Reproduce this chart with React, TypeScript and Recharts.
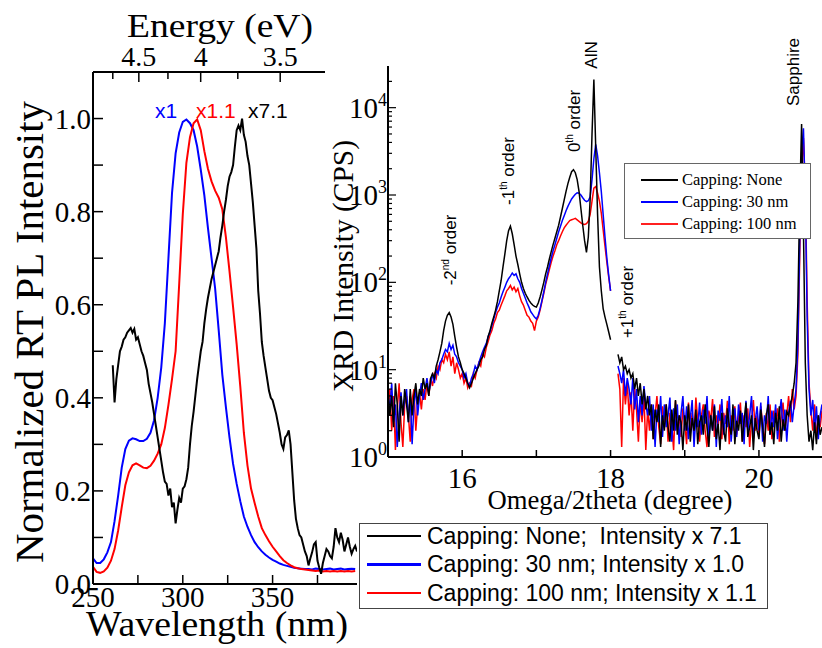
import React from "react";
import { Line, LineChart, XAxis, YAxis } from "recharts";

const SERIF = '"Liberation Serif", "Times New Roman", serif';
const SANS = '"Liberation Sans", Arial, sans-serif';

// ---- PL spectra (normalised), 2 nm grid from 250 nm ----
const plBlue = [
  0.055, 0.045, 0.045, 0.053, 0.068, 0.09, 0.135, 0.19, 0.25, 0.29,
  0.308, 0.313, 0.311, 0.307, 0.307, 0.312, 0.325, 0.352, 0.4, 0.465,
  0.56, 0.7, 0.84, 0.925, 0.97, 0.993, 0.998, 0.99, 0.975, 0.94,
  0.89, 0.835, 0.765, 0.7, 0.635, 0.545, 0.45, 0.38, 0.315, 0.258,
  0.215, 0.178, 0.145, 0.123, 0.105, 0.09, 0.079, 0.07, 0.063, 0.057,
  0.052, 0.048, 0.044, 0.041, 0.039, 0.037, 0.035, 0.034, 0.033, 0.032,
  0.032, 0.031, 0.033, 0.032, 0.031, 0.032, 0.033, 0.031, 0.032, 0.033,
  0.031, 0.032, 0.033, 0.032,
];
const plRed = [
  0.037, 0.026, 0.024, 0.027, 0.035, 0.05, 0.075, 0.115, 0.165, 0.212,
  0.24, 0.255, 0.259, 0.255, 0.25, 0.249, 0.254, 0.265, 0.28, 0.3,
  0.335, 0.385, 0.44, 0.5, 0.645, 0.795, 0.905, 0.96, 0.99, 0.998,
  0.975, 0.93, 0.892, 0.865, 0.845, 0.83, 0.805, 0.745, 0.672, 0.595,
  0.515, 0.425, 0.325, 0.255, 0.205, 0.174, 0.145, 0.12, 0.105, 0.092,
  0.08, 0.07, 0.06, 0.051, 0.045, 0.04, 0.036, 0.034, 0.032, 0.031,
  0.03, 0.029, 0.028, 0.029, 0.027, 0.028, 0.027, 0.028, 0.027, 0.028,
  0.027, 0.028, 0.027, 0.028,
];
// uncapped sample, 1 nm grid from 261 nm
const plBlack = [
  0.47, 0.39, 0.44, 0.47, 0.5, 0.51, 0.525, 0.53, 0.54, 0.545,
  0.55, 0.54, 0.548, 0.525, 0.53, 0.515, 0.5, 0.49, 0.475, 0.46,
  0.43, 0.41, 0.39, 0.365, 0.34, 0.315, 0.29, 0.265, 0.24, 0.22,
  0.215, 0.19, 0.205, 0.165, 0.175, 0.13, 0.16, 0.185, 0.175, 0.205,
  0.21, 0.225, 0.25, 0.3, 0.34, 0.37, 0.405, 0.44, 0.47, 0.5,
  0.52, 0.56, 0.59, 0.615, 0.635, 0.655, 0.67, 0.685, 0.7, 0.715,
  0.745, 0.77, 0.8, 0.825, 0.855, 0.875, 0.885, 0.9, 0.94, 0.975,
  0.985, 0.975, 1.0, 0.965, 0.95, 0.92, 0.9, 0.86, 0.82, 0.77,
  0.72, 0.63, 0.58, 0.52, 0.49, 0.465, 0.44, 0.415, 0.4, 0.395,
  0.38, 0.365, 0.345, 0.325, 0.3, 0.29, 0.315, 0.32, 0.33, 0.3,
  0.24, 0.18, 0.14, 0.12, 0.105, 0.1, 0.085, 0.07, 0.06, 0.04,
  0.055, 0.068, 0.085, 0.09, 0.05, 0.035, 0.022, 0.045, 0.06, 0.075,
  0.07, 0.06, 0.055, 0.08, 0.12, 0.1, 0.09, 0.11, 0.095, 0.07,
  0.085, 0.1, 0.08, 0.065, 0.075, 0.082, 0.07,
];

const nmTicks = [250, 275, 300, 325, 350, 375];
const nmLabels = [250, 300, 350];
const plTicks = [0, 0.1, 0.2, 0.3, 0.4, 0.5, 0.6, 0.7, 0.8, 0.9, 1.0];
const evTicks = [4.75, 4.5, 4.25, 4, 3.75, 3.5];
const evLabels = [4.5, 4, 3.5];

// ---- XRD omega/2theta scans, 0.025 deg steps from 15 deg (null = no data) ----
const xrdNone = [
  6, 3, 5, 2.2, 7, 4, 1.5, 5, 3, 6,
  4, 2.5, 6, 3, 5, 7, 4, 6, 5, 8,
  6, 7, 5, 8, 9, 8, 11, 13, 16, 20,
  28, 36, 42, 45, 40, 33, 24, 18, 14, 12,
  10, 9, 8, 7, 6.2, 7, 8, 9, 10, 11,
  13, 14, 17, 19, 24, 28, 34, 40, 48, 60,
  80, 105, 150, 210, 300, 390, 440, 360, 270, 200,
  160, 125, 100, 85, 75, 68, 62, 58, 55, 53,
  52, 58, 68, 82, 100, 125, 150, 185, 225, 270,
  320, 380, 450, 560, 700, 880, 1100, 1350, 1600, 1850,
  1950, 1800, 1500, 1100, 700, 450, 300, 220, 330, 900,
  5000, 21000, 3500, 600, 150, 80, 50, 40, 33, 27, 22,
  null, null, null,
  15, 12, 14, 10, 11, 9,
  10, 8, 9, 6, 8, 5, 7, 4, 6, 3.5,
  5, 3, 4, 1.6, 3.5, 2.5, 4, 1.3, 3, 2,
  4, 2.2, 1.5, 3.5, 2, 4.5, 1.8, 3, 2.5, 1.2,
  3, 2, 4, 1.5, 2.8, 2, 3.5, 1.4, 2.5, 3,
  1.8, 4, 2.2, 1.3, 3, 2, 3.8, 1.6, 2.4, 1.2,
  3.2, 2, 1.5, 3.6, 2.3, 1.8, 4, 1.4, 2.6, 2,
  3.4, 1.5, 2.6, 4.2, 1.7, 2.2, 3, 1.2, 2.8, 2,
  1.6, 3.5, 2.2, 1.3, 3, 4, 1.8, 2.5, 1.4, 3.2,
  2, 3.8, 1.5, 2.7, 2, 3.3, 3, 4, 5, 7,
  12, 60, 900, 6500, 400, 12, 3, 1.5, 2, 1.2, 2.5, 1.4, 3, 1.8, 2.2,
];
const xrd30nm = [
  5, 3.5, 7, 2.5, 4, 1.3, 3, 5.5, 3, 4.5,
  6, 2.5, 5, 1.4, 4, 6, 3, 5, 7, 4.5,
  6, 8, 5.5, 7, 9, 7, 10, 9, 12, 13,
  15, 17, 16, 20, 17, 19, 15, 14, 12, 11,
  10, 8, 9, 7, 6.5, 8, 9, 11, 10, 12,
  14, 16, 18, 20, 24, 27, 32, 38, 45, 52,
  58, 68, 78, 88, 100, 110, 118, 128, 120, 125,
  110, 100, 85, 75, 66, 58, 52, 46, 43, 40,
  38, 42, 50, 62, 78, 100, 125, 155, 190, 230,
  270, 320, 380, 440, 510, 580, 660, 740, 820, 900,
  960, 1020, 1060, 1050, 1000, 930, 870, 840, 860, 950,
  1500, 2600, 3800, 2800, 1800, 1100, 600, 330, 190, 120, 80,
  null, null, null,
  11, 9, 7, 10, 5, 8,
  6, 4, 8, 3.5, 6, 2.5, 5, 3, 6.5, 4,
  3, 5, 2, 4, 1.3, 3.5, 2.5, 5, 1.7, 4,
  2.2, 3, 4.8, 1.5, 3.6, 2, 4, 1.4, 3.2, 5,
  2, 3.8, 1.6, 2.8, 4.5, 1.3, 3, 2.2, 4.2, 1.8,
  3.5, 2.4, 5, 1.6, 3, 2, 4, 1.3, 3.4, 2.6,
  4.6, 1.8, 3, 2.2, 5, 1.5, 2.8, 3.6, 1.7, 4,
  2.4, 3.2, 1.4, 4.4, 2, 3, 5, 1.6, 2.6, 3.8,
  2, 4.2, 1.5, 3, 2.4, 5, 1.8, 3.4, 2.2, 4,
  1.6, 3, 4.6, 2, 3.5, 1.5, 3.2, 4.4, 2.5, 4,
  6, 20, 300, 3000, 5800, 900, 40, 6, 3, 4.5, 2, 3.8, 1.6, 3, 4,
];
const xrd100nm = [
  4, 6, 2, 5, 1.2, 3.5, 7, 2.5, 1.3, 4,
  5, 3, 1.5, 4.5, 6, 2, 4, 5.5, 3.5, 6,
  4.5, 7, 5, 8, 6.5, 9, 8, 11, 10, 13,
  12, 15, 13, 16, 11, 14, 9, 12, 10, 8,
  9, 7, 8, 6.2, 7, 6.5, 9, 8, 10, 12,
  11, 15, 14, 18, 21, 25, 28, 34, 38, 45,
  48, 55, 62, 70, 80, 85, 92, 82, 88, 78,
  85, 70, 60, 55, 48, 42, 40, 36, 34, 28,
  36, 40, 48, 60, 75, 95, 115, 140, 170, 200,
  230, 270, 300, 340, 380, 420, 450, 480, 510, 520,
  530, 540, 520, 500, 480, 465, 460, 470, 500, 600,
  850, 1200, 1250, 1050, 850, 620, 400, 260, 170, 115, 80,
  null, null, null,
  9, 6, 1.3, 8, 4, 7,
  3, 5.5, 2, 6, 3.5, 1.5, 4.5, 2.5, 5, 1.2,
  3.5, 2, 4, 1.6, 3, 5, 2.2, 1.4, 3.8, 2.5,
  4, 1.5, 3.2, 2.4, 1.2, 4.4, 2, 3, 1.7, 3.6,
  2.5, 1.4, 4.2, 2, 3.2, 1.8, 4.8, 2.6, 1.5, 3,
  4, 2, 1.3, 3.4, 2.6, 4.6, 1.7, 3, 2.2, 4,
  1.6, 3.2, 2.4, 4.4, 1.4, 3, 2, 3.8, 1.8, 2.8,
  4.2, 1.5, 3, 2.2, 3.6, 1.3, 2.6, 4.5, 2, 3,
  1.7, 3.8, 2.4, 1.4, 3.2, 2, 4, 1.6, 3.4, 2.6,
  3.6, 1.5, 2.8, 4.2, 2, 3, 5, 2.5, 6, 3.5,
  5, 15, 200, 2000, 4500, 1200, 60, 7, 3.5, 2, 4, 1.6, 3, 2.2, 3.4,
];

const thetaTicks = [16, 17, 18, 19, 20];
const thetaLabels = [16, 18, 20];
const cpsTicks = [
  1, 2, 3, 4, 5, 6, 7, 8, 9,
  10, 20, 30, 40, 50, 60, 70, 80, 90,
  100, 200, 300, 400, 500, 600, 700, 800, 900,
  1000, 2000, 3000, 4000, 5000, 6000, 7000, 8000, 9000,
  10000, 20000,
];

const plLegend = [
  { label: "Capping: None;  Intensity x 7.1", color: "#000000" },
  { label: "Capping: 30 nm; Intensity x 1.0", color: "#0000ff" },
  { label: "Capping: 100 nm; Intensity x 1.1", color: "#ff0000" },
];
const xrdLegend = [
  { label: "Capping: None", color: "#000000", width: 2 },
  { label: "Capping: 30 nm", color: "#0000ff", width: 2 },
  { label: "Capping: 100 nm", color: "#ff2020", width: 1.2 },
];

// ---- derived tables ----
const HC = 1239.84; // eV·nm
const blueRedRows = plBlue.map((b, i) => ({ nm: 250 + 2 * i, blue: b, red: plRed[i] }));
const blackRows = plBlack.map((v, i) => ({ nm: 261 + i, black: v }));
const evTickNm = evTicks.map((e) => HC / e);
const xrdRows = xrdNone.map((v, i) => ({
  theta: +(15 + 0.025 * i).toFixed(3),
  none: v,
  c30: xrd30nm[i],
  c100: xrd100nm[i],
}));

type TickProps = { x?: number; y?: number; payload?: { value: number } };

function NmTick({ x = 0, y = 0, payload }: TickProps) {
  const v = payload?.value ?? 0;
  return (
    <g>
      <line x1={x} y1={y} x2={x} y2={y - 9} stroke="#000" strokeWidth={1.5} />
      {nmLabels.includes(v) && (
        <text x={x} y={y + 23} textAnchor="middle" fontFamily={SERIF} fontSize={29} fill="#000">
          {v}
        </text>
      )}
    </g>
  );
}

function EvTick({ x = 0, y = 0, payload }: TickProps) {
  const ev = Math.round((HC / (payload?.value ?? 1)) * 100) / 100;
  const major = evLabels.includes(ev);
  return (
    <g>
      <line x1={x} y1={y} x2={x} y2={y + (major ? 10 : 7)} stroke="#000" strokeWidth={1.5} />
      {major && (
        <text x={x} y={y - 6} textAnchor="middle" fontFamily={SERIF} fontSize={28} fill="#000">
          {String(ev)}
        </text>
      )}
    </g>
  );
}

function PlTick({ x = 0, y = 0, payload }: TickProps) {
  const v = payload?.value ?? 0;
  const major = Math.round(v * 10) % 2 === 0;
  return (
    <g>
      <line x1={x} y1={y} x2={x + 10} y2={y} stroke="#000" strokeWidth={1.5} />
      {major && (
        <text x={x - 2} y={y + 10} textAnchor="end" fontFamily={SERIF} fontSize={29} fill="#000">
          {v.toFixed(1)}
        </text>
      )}
    </g>
  );
}

function ThetaTick({ x = 0, y = 0, payload }: TickProps) {
  const v = payload?.value ?? 0;
  return (
    <g>
      <line x1={x} y1={y} x2={x} y2={y - 7} stroke="#000" strokeWidth={1.5} />
      {thetaLabels.includes(v) && (
        <text x={x} y={y + 31} textAnchor="middle" fontFamily={SERIF} fontSize={29} fill="#000">
          {v}
        </text>
      )}
    </g>
  );
}

function CpsTick({ x = 0, y = 0, payload }: TickProps) {
  const v = payload?.value ?? 1;
  const exp = Math.log10(v);
  const major = Math.abs(exp - Math.round(exp)) < 1e-6;
  return (
    <g>
      <line x1={x} y1={y} x2={x + (major ? 8 : 4)} y2={y} stroke="#000" strokeWidth={1.2} />
      {major && (
        <text x={x - 1} y={y + 10} textAnchor="end" fontFamily={SERIF} fontSize={29} fill="#000">
          10
          <tspan dy={-12} fontSize={18}>
            {Math.round(exp)}
          </tspan>
        </text>
      )}
    </g>
  );
}

function PlChart() {
  return (
    <LineChart width={360} height={648} margin={{ top: 0, right: 3, bottom: 0, left: 0 }}>
      <XAxis
        type="number"
        dataKey="nm"
        domain={[250, 397]}
        allowDataOverflow
        ticks={nmTicks}
        interval={0}
        height={64}
        tickSize={0}
        tickMargin={0}
        tickLine={false}
        axisLine={{ stroke: "#000", strokeWidth: 2 }}
        tick={(p: any) => <NmTick {...p} />}
      />
      <XAxis
        xAxisId="ev"
        orientation="top"
        type="number"
        dataKey="nm"
        domain={[250, 397]}
        allowDataOverflow
        ticks={evTickNm}
        interval={0}
        height={72}
        tickSize={0}
        tickMargin={0}
        tickLine={false}
        axisLine={{ stroke: "#000", strokeWidth: 2 }}
        tick={(p: any) => <EvTick {...p} />}
      />
      <YAxis
        type="number"
        domain={[0, 1.1]}
        allowDataOverflow
        ticks={plTicks}
        interval={0}
        width={93}
        tickSize={0}
        tickMargin={0}
        tickLine={false}
        axisLine={{ stroke: "#000", strokeWidth: 2 }}
        tick={(p: any) => <PlTick {...p} />}
      />
      <Line data={blueRedRows} dataKey="blue" stroke="#0000ff" strokeWidth={2} dot={false} type="linear" isAnimationActive={false} />
      <Line data={blueRedRows} dataKey="red" stroke="#ff0000" strokeWidth={2} dot={false} type="linear" isAnimationActive={false} />
      <Line data={blackRows} dataKey="black" stroke="#000000" strokeWidth={2} dot={false} type="linear" isAnimationActive={false} />
    </LineChart>
  );
}

function XrdChart() {
  return (
    <LineChart width={497} height={515} data={xrdRows} margin={{ top: 66, right: 0, bottom: 0, left: 0 }}>
      <XAxis
        type="number"
        dataKey="theta"
        domain={[15, 20.85]}
        allowDataOverflow
        ticks={thetaTicks}
        interval={0}
        height={58}
        tickSize={0}
        tickMargin={0}
        tickLine={false}
        axisLine={{ stroke: "#000", strokeWidth: 2 }}
        tick={(p: any) => <ThetaTick {...p} />}
      />
      <XAxis
        xAxisId="frame"
        orientation="top"
        type="number"
        dataKey="theta"
        domain={[15, 20.85]}
        allowDataOverflow
        height={0}
        tick={false}
        tickLine={false}
        axisLine={{ stroke: "#000", strokeWidth: 1.5 }}
      />
      <YAxis
        type="number"
        scale="log"
        domain={[1, 30000]}
        allowDataOverflow
        ticks={cpsTicks}
        interval={0}
        width={63}
        tickSize={0}
        tickMargin={0}
        tickLine={false}
        axisLine={{ stroke: "#000", strokeWidth: 2 }}
        tick={(p: any) => <CpsTick {...p} />}
      />
      <Line dataKey="c100" stroke="#ff0000" strokeWidth={1.5} dot={false} type="linear" connectNulls={false} isAnimationActive={false} />
      <Line dataKey="c30" stroke="#0000ff" strokeWidth={1.5} dot={false} type="linear" connectNulls={false} isAnimationActive={false} />
      <Line dataKey="none" stroke="#000000" strokeWidth={1.5} dot={false} type="linear" connectNulls={false} isAnimationActive={false} />
    </LineChart>
  );
}

// rotated peak label with a superscript ordinal
function OrderLabel({ x, y, lead, sup, tail }: { x: number; y: number; lead: string; sup?: string; tail?: string }) {
  return (
    <text transform={`translate(${x},${y}) rotate(-90)`} textAnchor="middle" fontFamily={SANS} fontSize={17} fill="#000">
      {lead}
      {sup && (
        <tspan dy={-7} fontSize={10}>
          {sup}
        </tspan>
      )}
      {tail && <tspan dy={sup ? 7 : 0}>{tail}</tspan>}
    </text>
  );
}

// axis title stretched to a fixed run length
function Title({ x, y, len, size, rotate, children }: { x: number; y: number; len: number; size: number; rotate?: boolean; children: string }) {
  return (
    <text
      transform={`translate(${x},${y})${rotate ? " rotate(-90)" : ""}`}
      textAnchor="middle"
      fontFamily={SERIF}
      fontSize={size}
      textLength={len}
      lengthAdjust="spacingAndGlyphs"
      fill="#000"
    >
      {children}
    </text>
  );
}

function Annotations() {
  return (
    <svg width={822} height={648} style={{ position: "absolute", left: 0, top: 0, pointerEvents: "none" }}>
      {/* PL panel titles */}
      <Title x={220} y={37} len={186} size={34}>Energy (eV)</Title>
      <Title x={217} y={636} len={262} size={36}>Wavelength (nm)</Title>
      <Title x={43} y={332} len={462} size={40} rotate>Normalized RT PL Intensity</Title>
      <text x={155} y={118} fontFamily={SANS} fontSize={21} fill="#0000ff">
        x1
      </text>
      <text x={196} y={118} fontFamily={SANS} fontSize={21} fill="#ff0000">
        x1.1
      </text>
      <text x={248} y={118} fontFamily={SANS} fontSize={21} fill="#000">
        x7.1
      </text>

      {/* XRD panel titles */}
      <Title x={353} y={266} len={252} size={29} rotate>XRD Intensity (CPS)</Title>
      <Title x={610} y={509} len={245} size={27}>Omega/2theta (degree)</Title>

      {/* peak labels; white boxes break the frame line */}
      <rect x={578} y={38} width={24} height={31} fill="#fff" />
      <rect x={783} y={33} width={25} height={36} fill="#fff" />
      <OrderLabel x={597} y={55} lead="AlN" />
      <OrderLabel x={799} y={72} lead="Sapphire" />
      <OrderLabel x={456} y={250} lead="-2" sup="nd" tail=" order" />
      <OrderLabel x={514} y={171} lead="-1" sup="th" tail=" order" />
      <OrderLabel x={580} y={121} lead="0" sup="th" tail=" order" />
      <OrderLabel x={633} y={302} lead="+1" sup="th" tail=" order" />
    </svg>
  );
}

function PlLegendBox() {
  return (
    <div
      style={{
        position: "absolute",
        left: 359,
        top: 523,
        width: 409,
        height: 86,
        boxSizing: "border-box",
        border: "1.5px solid #444",
        background: "#fff",
      }}
    >
      {plLegend.map((row, i) => (
        <div
          key={row.label}
          style={{
            position: "absolute",
            left: 0,
            top: 12 + i * 28.5 - 14,
            height: 28,
            display: "flex",
            alignItems: "center",
          }}
        >
          <div style={{ marginLeft: 7, width: 54, height: 2.5, background: row.color }} />
          <span style={{ marginLeft: 6, fontFamily: SANS, fontSize: 23, whiteSpace: "pre", color: "#000" }}>
            {row.label}
          </span>
        </div>
      ))}
    </div>
  );
}

function XrdLegendBox() {
  return (
    <div
      style={{
        position: "absolute",
        left: 624,
        top: 163,
        width: 187,
        height: 76,
        boxSizing: "border-box",
        border: "1px solid #666",
        background: "#fff",
      }}
    >
      {xrdLegend.map((row, i) => (
        <div
          key={row.label}
          style={{
            position: "absolute",
            left: 0,
            top: 16 + i * 22 - 11,
            height: 22,
            display: "flex",
            alignItems: "center",
          }}
        >
          <div style={{ marginLeft: 16, width: 37, height: row.width, background: row.color }} />
          <span style={{ marginLeft: 4, fontFamily: SERIF, fontSize: 16.5, whiteSpace: "pre", color: "#000" }}>
            {row.label}
          </span>
        </div>
      ))}
    </div>
  );
}

export default function App() {
  return (
    <div style={{ position: "absolute", left: 0, top: 0, width: 822, height: 648, background: "#fff", overflow: "hidden" }}>
      <div style={{ position: "absolute", left: 0, top: 0 }}>
        <PlChart />
      </div>
      <div style={{ position: "absolute", left: 325, top: 0, width: 497, height: 515, background: "#fff" }}>
        <XrdChart />
      </div>
      <Annotations />
      <XrdLegendBox />
      <PlLegendBox />
    </div>
  );
}
